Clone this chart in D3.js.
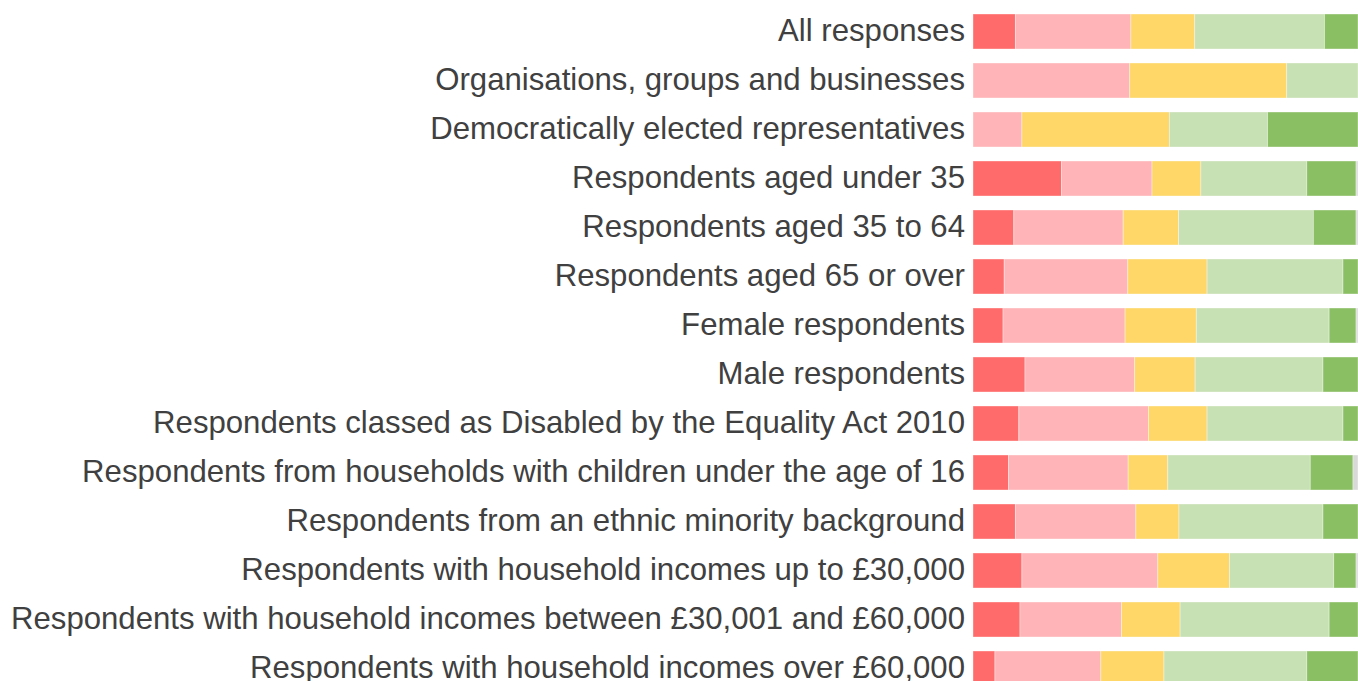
<!DOCTYPE html>
<html>
<head>
<meta charset="utf-8">
<script src="https://cdn.jsdelivr.net/npm/d3@7"></script>
<style>
  html, body { margin: 0; padding: 0; background: #fff; overflow: hidden; }
  svg { display: block; }
</style>
</head>
<body>
<svg id="chart" width="1358" height="681"></svg>
<script>
// Response groups, top to bottom
const groups = [
  "All responses",
  "Organisations, groups and businesses",
  "Democratically elected representatives",
  "Respondents aged under 35",
  "Respondents aged 35 to 64",
  "Respondents aged 65 or over",
  "Female respondents",
  "Male respondents",
  "Respondents classed as Disabled by the Equality Act 2010",
  "Respondents from households with children under the age of 16",
  "Respondents from an ethnic minority background",
  "Respondents with household incomes up to £30,000",
  "Respondents with household incomes between £30,001 and £60,000",
  "Respondents with household incomes over £60,000"
];

// Answer categories (percent of responses)
const answers = ["Strongly disagree", "Disagree", "Neutral", "Agree", "Strongly agree", "Don't know"];

const stronglyDisagree = [11.0,  0.0,  0.0, 23.0, 10.6,  8.1,  7.8, 13.5, 11.9,  9.2, 11.0, 12.7, 12.2,  5.7];
const disagree         = [30.0, 40.7, 12.7, 23.5, 28.4, 32.1, 31.7, 28.5, 33.7, 31.1, 31.3, 35.3, 26.4, 27.5];
const neutral          = [16.6, 40.8, 38.3, 12.7, 14.4, 20.6, 18.5, 15.7, 15.2, 10.3, 11.2, 18.6, 15.2, 16.4];
const agree            = [33.7, 18.5, 25.5, 27.5, 35.0, 35.3, 34.5, 33.2, 35.3, 37.0, 37.4, 27.1, 38.7, 37.1];
const stronglyAgree    = [ 8.7,  0.0, 23.5, 12.8, 11.1,  3.9,  7.0,  9.1,  3.9, 11.1,  9.1,  5.8,  7.5, 13.3];
const dontKnow         = [ 0.0,  0.0,  0.0,  0.5,  0.5,  0.0,  0.5,  0.0,  0.0,  1.3,  0.0,  0.5,  0.0,  0.0];

const colours = ["#ff6b6b", "#ffb5b7", "#fed768", "#c7e0b4", "#8abf63", "#d9d9d9"];

const rows = groups.map((g, i) => ({
  group: g,
  "Strongly disagree": stronglyDisagree[i],
  "Disagree": disagree[i],
  "Neutral": neutral[i],
  "Agree": agree[i],
  "Strongly agree": stronglyAgree[i],
  "Don't know": dontKnow[i]
}));

const svg = d3.select("#chart");
const margin = { top: 14, left: 973, right: 0 };
const width = 1358;

const x = d3.scaleLinear().domain([0, 100]).range([margin.left, width]);
const y = d3.scaleBand()
  .domain(groups)
  .range([margin.top - 7, margin.top - 7 + 49 * groups.length])
  .paddingInner(14 / 49)
  .paddingOuter(7 / 49);

const colour = d3.scaleOrdinal().domain(answers).range(colours);

const stacked = d3.stack().keys(answers)(rows);

svg.append("g")
  .selectAll("g")
  .data(stacked)
  .join("g")
  .attr("fill", d => colour(d.key))
  .selectAll("rect")
  .data(d => d)
  .join("rect")
  .attr("x", d => x(d[0]))
  .attr("y", d => y(d.data.group))
  .attr("width", d => Math.max(0, x(d[1]) - x(d[0])))
  .attr("height", y.bandwidth())
  .attr("stroke", "#ffffff")
  .attr("stroke-opacity", 0.45)
  .attr("stroke-width", 0.8);

// Category labels to the left of the bars
const yAxis = d3.axisLeft(y).tickSize(0).tickPadding(8);
const ag = svg.append("g")
  .attr("transform", `translate(${margin.left},0)`)
  .call(yAxis);
ag.select(".domain").remove();
ag.selectAll("text")
  .attr("font-family", "'Liberation Sans', Arial, sans-serif")
  .attr("font-size", 31.15)
  .attr("fill", "#404040");
</script>
</body>
</html>
